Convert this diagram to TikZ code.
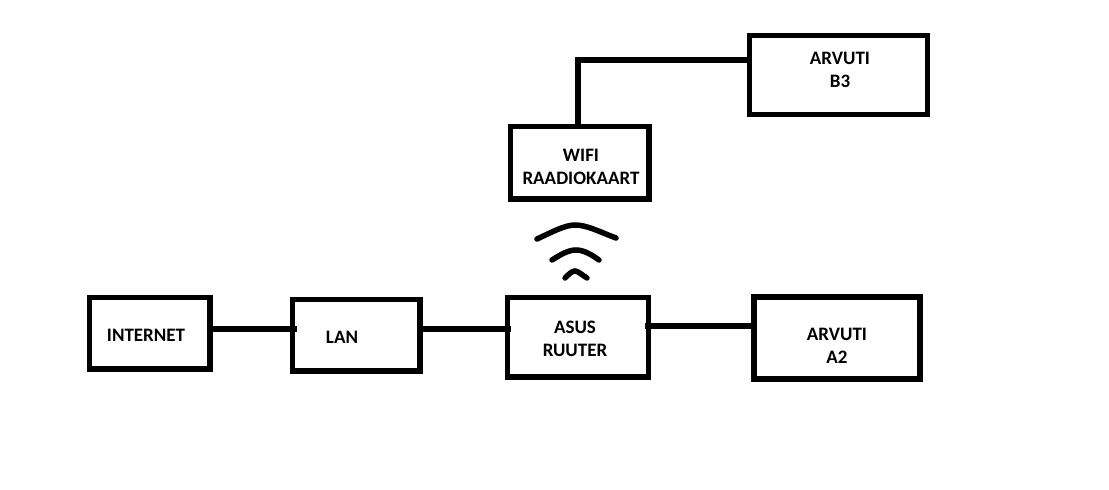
\documentclass[tikz,border=0pt]{standalone}
\usepackage{fontspec}
\setmainfont{Carlito}
\tikzset{box/.style = {draw, line width = 5.5, minimum width = #1, inner sep = 0}}
\tikzset{lbl/.style = {font = \bfseries\fontsize{19}{23}\selectfont, align = center, inner sep = 0}}
\tikzset{link/.style = {line width = 5.5}}
\tikzset{wave/.style = {line width = 5.5, line cap = round}}

\begin{document}
\begin{tikzpicture}[x=1pt, y=-1pt]
      \useasboundingbox (0, 0) rectangle (1109, 490);

      \node [box=120.5, minimum height=71.5] (internet) at (149.75, 333.25) {};
      \node [box=127.5, minimum height=71.5] (lan) at (356.25, 335.25) {};
      \node [box=141, minimum height=79.5] (ruuter) at (578, 337.25) {};
      \node [box=166, minimum height=82] (a2) at (837, 338) {};
      \node [box=138.5, minimum height=72.5] (wifi) at (579.75, 162.75) {};
      \node [box=178, minimum height=79] (b3) at (838.5, 75) {};

      \node [lbl] (internettxt) at (146, 335) {INTERNET};
      \node [lbl] (lantxt) at (342, 337) {LAN};
      \node [lbl] (ruutertxt) at (575, 338.5) {ASUS\\RUUTER};
      \node [lbl] (a2txt) at (837, 345.5) {ARVUTI\\A2};
      \node [lbl] (wifitxt) at (581, 166.5) {WIFI\\RAADIOKAART};
      \node [lbl] (b3txt) at (840, 69.5) {ARVUTI\\B3};

      % heights of the wires
      \coordinate (lanwire) at (0, 329);
      \coordinate (a2wire) at (0, 326);
      \coordinate (b3corner) at (578, 60);

      \draw [link] (internet.east |- lanwire) -- ([xshift=7.5]lan.west |- lanwire);
      \draw [link] (lan.east |- lanwire) -- ([xshift=6.5]ruuter.west |- lanwire);
      \draw [link] ([xshift=-6]ruuter.east |- a2wire) -- (a2.west |- a2wire);
      \draw [link] (wifi.north -| b3corner) -- (b3corner) -- (b3.west |- b3corner);

      \draw [wave] (537, 239) .. controls (552, 232) and (565, 225) .. (575, 225) .. controls (587, 225) and (600, 232) .. (616, 238);
      \draw [wave] (552, 260) .. controls (560, 255) and (568, 250) .. (576, 250) .. controls (584, 250) and (592, 255) .. (599, 260);
      \draw [wave] (565, 278) .. controls (569, 274) and (572, 271) .. (575, 271) .. controls (578, 271) and (582, 275) .. (587, 278);
    \end{tikzpicture}
\end{document}
